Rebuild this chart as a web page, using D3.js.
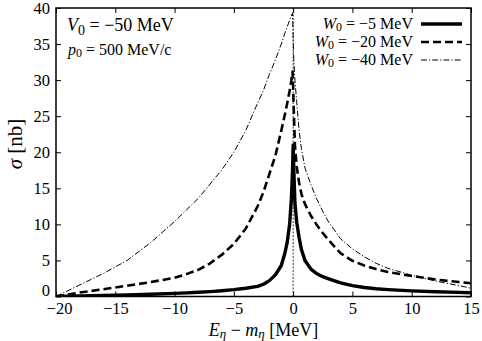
<!DOCTYPE html>
<html><head><meta charset="utf-8">
<script src="https://cdn.jsdelivr.net/npm/d3@7"></script>
<style>
html,body{margin:0;padding:0;background:#fff;}
svg, svg text{font-family:"Liberation Serif","Times New Roman",serif !important;}
</style></head>
<body><svg id="c" width="482" height="341"></svg>
<script>
// Energy grid E_eta - m_eta [MeV]
const energy = [-20,-18,-16,-15,-14,-12,-10,-9,-8,-7,-6,-5,-4,-3,-2.5,-2,-1.5,-1,-0.7,-0.5,-0.3,-0.15,-0.05,0,0.05,0.15,0.3,0.5,0.7,1,1.5,2,2.5,3,4,5,6,7,8,10,12,14,15];
// sigma [nb] for W0 = -5 MeV
const sigmaW5 = [0.0,0.07,0.14,0.18,0.22,0.32,0.43,0.5,0.58,0.68,0.8,0.95,1.15,1.4,1.7,2.2,3.0,4.3,6.0,7.5,10.0,13.5,17.5,21.0,18.0,13.0,10.3,8.2,6.5,5.0,3.8,3.15,2.75,2.45,1.9,1.5,1.25,1.07,0.95,0.78,0.66,0.57,0.53];
// sigma [nb] for W0 = -20 MeV
const sigmaW20 = [0.0,0.55,1.0,1.25,1.5,2.0,2.6,3.1,3.7,4.6,5.8,7.3,9.4,12.5,14.5,17.0,19.5,23.0,25.2,26.8,28.5,30.0,31.2,29.0,26.0,21.0,18.0,15.8,14.2,12.8,11.2,9.9,8.8,7.8,6.0,4.95,4.3,3.8,3.4,2.85,2.35,2.0,1.83];
// sigma [nb] for W0 = -40 MeV
const sigmaW40 = [0.0,1.6,3.2,4.1,5.0,7.5,10.4,12.0,13.6,15.6,17.6,20.0,23.0,26.8,28.6,30.8,32.8,35.0,36.5,37.4,38.3,38.9,39.3,36.0,33.0,30.0,27.0,23.0,20.5,17.8,15.5,13.5,11.8,10.3,8.0,6.6,5.5,4.6,3.9,2.95,2.15,1.5,1.15];
const seriesLabels = ["−5 MeV","−20 MeV","−40 MeV"];
const xTicks = [-20,-15,-10,-5,0,5,10,15];
const yTicks = [0,5,10,15,20,25,30,35,40];

const FONT = "Liberation Serif, Times New Roman, serif";
const svg = d3.select("#c");
const L=56, R=471, T=8, B=296.5;
const x = d3.scaleLinear().domain([-20,15]).range([L,R]);
const y = d3.scaleLinear().domain([0,40]).range([B,T]);

svg.append("defs").append("clipPath").attr("id","pc")
  .append("rect").attr("x",L).attr("y",T).attr("width",R-L).attr("height",B-T);

const styles = [
  {w:3.4, dash:null},
  {w:2.6, dash:"8,4"},
  {w:1.0, dash:"6,2,1.2,2"}
];
const sets = [sigmaW5, sigmaW20, sigmaW40];

// vertical reference line at 0
svg.append("line").attr("x1",x(0)).attr("x2",x(0)).attr("y1",y(0)).attr("y2",y(40))
  .attr("stroke","#000").attr("stroke-width",0.8).attr("stroke-dasharray","2,1.5");

const line = d3.line().x((d,i)=>x(energy[i])).y(d=>y(d)).curve(d3.curveLinear);
const g = svg.append("g").attr("clip-path","url(#pc)");
sets.forEach((s,k)=>{
  g.append("path").attr("d",line(s)).attr("fill","none").attr("stroke","#000")
   .attr("stroke-width",styles[k].w).attr("stroke-dasharray",styles[k].dash)
   .attr("stroke-linejoin","round");
});

// axes with inward ticks
const tickLen = 5;
const ax = svg.append("g").attr("transform",`translate(0,${B})`)
  .call(d3.axisBottom(x).tickValues(xTicks).tickSizeInner(-tickLen).tickSizeOuter(0).tickPadding(6)
  .tickFormat(d=>d<0?"−"+Math.abs(d):d));
svg.append("g").attr("transform",`translate(0,${T})`)
  .call(d3.axisTop(x).tickValues(xTicks).tickSizeInner(-tickLen).tickSizeOuter(0).tickFormat(""));
const ay = svg.append("g").attr("transform",`translate(${L},0)`)
  .call(d3.axisLeft(y).tickValues(yTicks).tickSizeInner(-tickLen).tickSizeOuter(0).tickPadding(6));
svg.append("g").attr("transform",`translate(${R},0)`)
  .call(d3.axisRight(y).tickValues(yTicks).tickSizeInner(-tickLen).tickSizeOuter(0).tickFormat(""));
svg.selectAll("g").attr("font-family",FONT);
svg.selectAll(".domain").remove();
svg.selectAll(".tick line").attr("stroke","#000").attr("stroke-width",1);
svg.selectAll(".tick text").attr("font-size",16.5).attr("fill","#000");
// separate the two labels meeting at the lower-left corner
ay.selectAll(".tick text").filter(d=>d===0).attr("dy","-0.08em");
ax.selectAll(".tick text").filter(d=>d===-20).attr("dx",3);
svg.append("rect").attr("x",L).attr("y",T).attr("width",R-L).attr("height",B-T)
  .attr("fill","none").attr("stroke","#000").attr("stroke-width",1.5);

// axis titles
const xt = svg.append("text").attr("x",(L+R)/2).attr("y",336).attr("text-anchor","middle")
  .attr("font-size",18).attr("font-family",FONT);
xt.append("tspan").attr("font-style","italic").text("E");
xt.append("tspan").attr("font-style","italic").attr("font-size",13).attr("dy",2).text("η");
xt.append("tspan").attr("dy",-2).text(" − ");
xt.append("tspan").attr("font-style","italic").text("m");
xt.append("tspan").attr("font-style","italic").attr("font-size",13).attr("dy",2).text("η");
xt.append("tspan").attr("dy",-2).text("  [MeV]");

const yt = svg.append("text").attr("transform","translate(22,144) rotate(-90)")
  .attr("text-anchor","middle").attr("font-size",21).attr("font-family",FONT);
yt.append("tspan").attr("font-style","italic").text("σ");
yt.append("tspan").text(" [nb]");

// annotations
const a1 = svg.append("text").attr("x",67).attr("y",31).attr("font-size",18).attr("font-family",FONT);
a1.append("tspan").attr("font-style","italic").text("V");
a1.append("tspan").attr("font-size",14).attr("dy",4).text("0");
a1.append("tspan").attr("dy",-4).text(" = −50 MeV");
const a2 = svg.append("text").attr("x",68).attr("y",55).attr("font-size",16).attr("font-family",FONT);
a2.append("tspan").attr("font-style","italic").text("p");
a2.append("tspan").attr("font-size",12).attr("dy",2).text("0");
a2.append("tspan").attr("dy",-2).text(" = 500 MeV/c");

// legend
const rows = [29,47,65];
seriesLabels.forEach((lab,k)=>{
  const t = svg.append("text").attr("x",413).attr("y",rows[k]).attr("text-anchor","end")
    .attr("font-size",16).attr("font-family",FONT);
  t.append("tspan").attr("font-style","italic").text("W");
  t.append("tspan").attr("font-size",12).attr("dy",2).text("0");
  t.append("tspan").attr("dy",-2).text(" = "+lab);
  svg.append("line").attr("x1",421).attr("x2",462).attr("y1",rows[k]-5).attr("y2",rows[k]-5)
    .attr("stroke","#000").attr("stroke-width",styles[k].w).attr("stroke-dasharray",styles[k].dash);
});
</script></body></html>
